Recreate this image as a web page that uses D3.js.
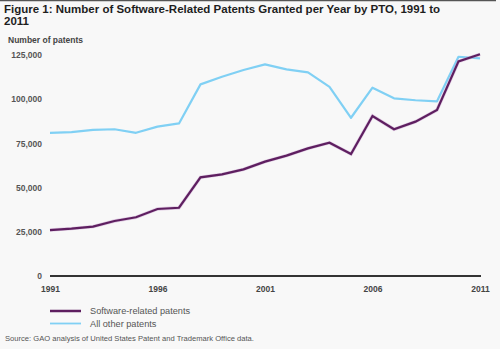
<!DOCTYPE html>
<html>
<head>
<meta charset="utf-8">
<script src="https://cdn.jsdelivr.net/npm/d3@7"></script>
<style>
  html, body { margin: 0; padding: 0; background: #f8f8f8; }
  svg { display: block; font-family: "Liberation Sans", Arial, sans-serif; }
</style>
</head>
<body>
<div class="chart"></div>
<script>
var years = d3.range(1991, 2012);
var tickYears = [1991, 1996, 2001, 2006, 2011];
var yTicks = [0, 25000, 50000, 75000, 100000, 125000];

var softwarePatents = [26000, 26800, 27900, 31100, 33200, 37900, 38600, 55800, 57500, 60300,
                       64700, 68100, 72200, 75400, 69000, 90500, 83000, 87300, 93900, 121400, 125400];
var otherPatents = [81000, 81400, 82600, 83000, 81000, 84500, 86300, 108400, 112700, 116500,
                    119700, 116900, 115200, 107000, 89500, 106500, 100500, 99400, 98800, 124000, 123100];

var seriesNames = ['Software-related patents', 'All other patents'];
var seriesColors = ['#5e1f60', '#80d0f4'];

function init() {
  var width = 500,
      height = 349,
      area = { x1: 50, x2: 480, y1: 55, y2: 276 };

  var svg = d3.select('.chart')
    .append('svg')
      .attr('width', width)
      .attr('height', height);

  svg.append('rect')
      .attr('width', width)
      .attr('height', height)
      .attr('fill', '#f8f8f8');

  // thin rule across the top of the figure
  svg.append('line')
      .attr('x1', 0).attr('x2', 496)
      .attr('y1', 0.5).attr('y2', 0.5)
      .attr('stroke', '#555')
      .attr('stroke-width', 1.5);

  var title = svg.append('text')
      .attr('x', 4)
      .attr('fill', '#1e1e1e')
      .style('font-size', '11.5px')
      .style('font-weight', 'bold');
  title.append('tspan').attr('x', 4).attr('y', 13)
      .text('Figure 1: Number of Software-Related Patents Granted per Year by PTO, 1991 to');
  title.append('tspan').attr('x', 4).attr('y', 25).text('2011');

  svg.append('text')
      .attr('x', 8).attr('y', 43)
      .attr('fill', '#444')
      .style('font-size', '8.5px')
      .style('font-weight', 'bold')
      .text('Number of patents');

  var x = d3.scaleLinear().domain([1991, 2011]).range([area.x1, area.x2]);
  var y = d3.scaleLinear().domain([0, 125000]).range([area.y2, area.y1]);

  var yAxis = d3.axisLeft(y)
      .tickValues(yTicks)
      .tickSize(0)
      .tickPadding(0)
      .tickFormat(d3.format(','));
  var yAxisGroup = svg.append('g')
      .attr('transform', 'translate(42, 0)')
      .call(yAxis);
  yAxisGroup.select('.domain').remove();
  yAxisGroup.selectAll('text')
      .attr('fill', '#555')
      .style('font-size', '8.5px')
      .style('font-weight', 'bold')
      .style('font-family', '"Liberation Sans", Arial, sans-serif');

  var xAxis = d3.axisBottom(x)
      .tickValues(tickYears)
      .tickSize(0)
      .tickPadding(10)
      .tickFormat(d3.format('d'));
  var xAxisGroup = svg.append('g')
      .attr('transform', 'translate(0,' + area.y2 + ')')
      .call(xAxis);
  xAxisGroup.select('.domain').remove();
  xAxisGroup.selectAll('text')
      .attr('fill', '#444')
      .style('font-size', '8.5px')
      .style('font-weight', 'bold')
      .style('font-family', '"Liberation Sans", Arial, sans-serif');

  svg.append('line')
      .attr('x1', area.x1).attr('x2', area.x2 + 1)
      .attr('y1', area.y2).attr('y2', area.y2)
      .attr('stroke', '#333')
      .attr('stroke-width', 2);

  var line = d3.line()
      .x(function(d, i) { return x(years[i]); })
      .y(function(d) { return y(d); });

  svg.append('path')
      .datum(otherPatents)
      .attr('fill', 'none')
      .attr('stroke', seriesColors[1])
      .attr('stroke-width', 2.2)
      .attr('stroke-linejoin', 'round')
      .attr('d', line);

  svg.append('path')
      .datum(softwarePatents)
      .attr('fill', 'none')
      .attr('stroke', '#c9a0d0')
      .attr('stroke-width', 3.4)
      .attr('stroke-opacity', 0.5)
      .attr('d', line);
  svg.append('path')
      .datum(softwarePatents)
      .attr('fill', 'none')
      .attr('stroke', seriesColors[0])
      .attr('stroke-width', 2.2)
      .attr('d', line);

  var legend = svg.selectAll('g.legend').data(seriesNames)
    .enter()
      .append('g')
        .attr('class', 'legend')
        .attr('transform', function(d, i) { return 'translate(50,' + (311 + i * 12.5) + ')'; });
  legend.append('line')
      .attr('x1', 0).attr('x2', 31)
      .attr('stroke', function(d, i) { return seriesColors[i]; })
      .attr('stroke-width', function(d, i) { return i ? 1.8 : 2.5; });
  legend.append('text')
      .attr('x', 40).attr('dy', '0.35em')
      .attr('fill', '#555')
      .style('font-size', '9.2px')
      .text(function(d) { return d; });

  svg.append('text')
      .attr('x', 5).attr('y', 341)
      .attr('fill', '#555')
      .style('font-size', '7.6px')
      .text('Source: GAO analysis of United States Patent and Trademark Office data.');
}

init();
</script>
</body>
</html>
